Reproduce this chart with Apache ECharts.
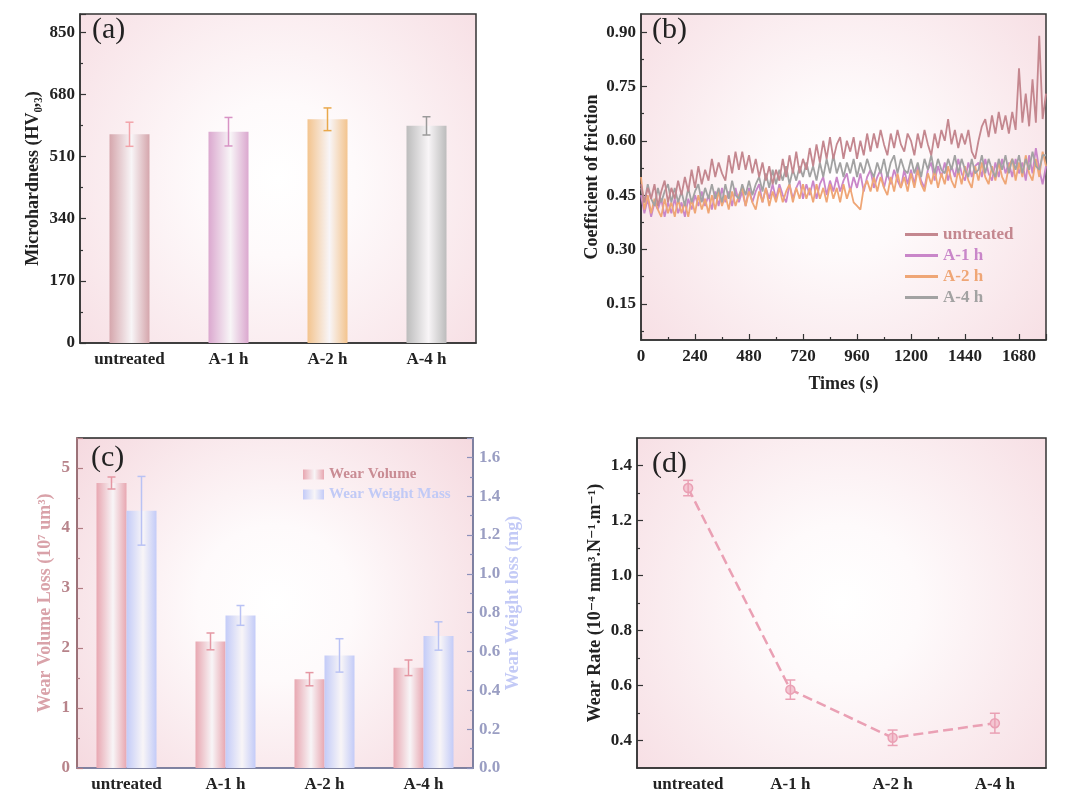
<!DOCTYPE html>
<html>
<head>
<meta charset="utf-8">
<script src="https://cdn.jsdelivr.net/npm/echarts@6/dist/echarts.min.js"></script>
<style>
html, body { margin: 0; padding: 0; background: #fff; }
#main { width: 1080px; height: 799px; }
</style>
</head>
<body>
<div id="main"></div>
<script>
// ---- data ----
var samples     = ['untreated', 'A-1 h', 'A-2 h', 'A-4 h'];

// (a) microhardness
var hardness    = [571, 578, 612, 594];
var hardnessErr = [33, 39, 31, 25];

// (b) coefficient of friction, one reading every timeStep seconds
var timeStep = 15;
var cofUntreated = [
    0.48,0.43,0.47,0.44,0.48,0.42,0.46,0.49,0.43,0.47,
    0.44,0.49,0.45,0.50,0.46,0.52,0.47,0.53,0.48,0.52,
    0.49,0.55,0.50,0.54,0.51,0.49,0.56,0.51,0.57,0.52,
    0.57,0.52,0.56,0.51,0.55,0.50,0.54,0.49,0.53,0.48,
    0.52,0.49,0.55,0.50,0.56,0.51,0.57,0.51,0.55,0.52,
    0.58,0.53,0.59,0.54,0.60,0.55,0.61,0.55,0.59,0.61,
    0.55,0.60,0.57,0.61,0.55,0.60,0.56,0.62,0.57,0.62,
    0.58,0.63,0.59,0.56,0.62,0.58,0.63,0.59,0.57,0.62,
    0.60,0.56,0.62,0.58,0.63,0.59,0.56,0.62,0.58,0.63,
    0.60,0.66,0.59,0.63,0.58,0.62,0.59,0.63,0.57,0.55,
    0.60,0.64,0.66,0.61,0.67,0.62,0.68,0.63,0.67,0.62,
    0.68,0.63,0.80,0.65,0.73,0.64,0.77,0.65,0.89,0.66,
    0.73
];
var cofA1 = [
    0.45,0.40,0.44,0.39,0.43,0.41,0.44,0.39,0.43,0.40,
    0.44,0.40,0.43,0.39,0.44,0.41,0.45,0.42,0.46,0.42,
    0.45,0.41,0.46,0.42,0.47,0.43,0.46,0.42,0.47,0.43,
    0.46,0.42,0.47,0.43,0.46,0.48,0.43,0.47,0.44,0.48,
    0.44,0.48,0.45,0.43,0.48,0.44,0.47,0.49,0.44,0.48,
    0.45,0.49,0.44,0.48,0.50,0.45,0.49,0.46,0.50,0.46,
    0.49,0.51,0.46,0.50,0.47,0.51,0.46,0.50,0.52,0.47,
    0.50,0.52,0.47,0.51,0.48,0.52,0.49,0.47,0.52,0.48,
    0.52,0.48,0.53,0.49,0.47,0.52,0.54,0.49,0.53,0.50,
    0.54,0.49,0.53,0.50,0.55,0.51,0.49,0.54,0.50,0.53,
    0.54,0.50,0.55,0.51,0.49,0.54,0.50,0.55,0.51,0.54,
    0.50,0.55,0.51,0.54,0.49,0.56,0.51,0.58,0.52,0.48,
    0.53
];
var cofA2 = [
    0.50,0.41,0.45,0.40,0.44,0.41,0.39,0.44,0.40,0.43,
    0.39,0.44,0.40,0.43,0.39,0.44,0.40,0.45,0.41,0.44,
    0.40,0.45,0.41,0.46,0.42,0.45,0.41,0.46,0.42,0.45,
    0.47,0.42,0.46,0.43,0.41,0.46,0.43,0.47,0.42,0.46,
    0.43,0.47,0.43,0.46,0.48,0.43,0.47,0.44,0.48,0.44,
    0.47,0.43,0.48,0.44,0.47,0.43,0.48,0.44,0.47,0.43,
    0.48,0.44,0.47,0.43,0.42,0.41,0.47,0.49,0.46,0.50,
    0.46,0.50,0.47,0.45,0.50,0.46,0.51,0.47,0.50,0.46,
    0.51,0.47,0.52,0.48,0.46,0.51,0.48,0.52,0.47,0.51,
    0.48,0.53,0.49,0.47,0.52,0.48,0.53,0.49,0.47,0.53,
    0.49,0.54,0.50,0.48,0.53,0.49,0.54,0.50,0.48,0.53,
    0.55,0.49,0.54,0.50,0.56,0.51,0.49,0.55,0.50,0.57,
    0.53
];
var cofA4 = [
    0.47,0.43,0.48,0.44,0.42,0.47,0.43,0.46,0.48,0.43,
    0.47,0.43,0.46,0.42,0.47,0.43,0.46,0.48,0.43,0.47,
    0.44,0.48,0.44,0.47,0.43,0.48,0.44,0.49,0.45,0.44,
    0.48,0.45,0.49,0.45,0.48,0.50,0.46,0.51,0.47,0.52,
    0.48,0.52,0.49,0.53,0.48,0.52,0.49,0.53,0.50,0.54,
    0.50,0.53,0.49,0.54,0.50,0.55,0.51,0.56,0.51,0.54,
    0.50,0.54,0.51,0.55,0.50,0.54,0.51,0.55,0.52,0.50,
    0.54,0.51,0.55,0.50,0.54,0.56,0.51,0.55,0.52,0.51,
    0.55,0.51,0.54,0.50,0.55,0.52,0.56,0.51,0.55,0.52,
    0.51,0.55,0.52,0.56,0.51,0.55,0.52,0.50,0.55,0.51,
    0.52,0.56,0.51,0.55,0.52,0.50,0.55,0.52,0.56,0.51,
    0.55,0.52,0.56,0.51,0.55,0.52,0.57,0.53,0.52,0.56,
    0.56
];
var cofTicks  = [0.15, 0.30, 0.45, 0.60, 0.75, 0.90];
var cofMinor  = [0.075, 0.225, 0.375, 0.525, 0.675, 0.825];

// (c) wear volume / mass
var wearVolume    = [4.75, 2.11, 1.48, 1.67];
var wearVolumeErr = [0.10, 0.14, 0.11, 0.13];
var wearMass      = [1.325, 0.786, 0.58, 0.68];
var wearMassErr   = [0.177, 0.051, 0.086, 0.073];

// (d) wear rate
var wearRate    = [1.318, 0.585, 0.41, 0.463];
var wearRateErr = [0.028, 0.035, 0.028, 0.036];
var rateTicks   = [0.4, 0.6, 0.8, 1.0, 1.2, 1.4];
var rateMinor   = [0.5, 0.7, 0.9, 1.1, 1.3];

// ---- style ----
var FONT      = "'Liberation Serif', 'Times New Roman', 'DejaVu Serif', serif";
var barEdge   = ['#d5a6ac', '#dba8cf', '#f3c48e', '#bcbcbc'];
var errColors = ['#f2a3a9', '#d893c5', '#e9a84b', '#9a9a9a'];
var cofColors = ['#c4878f', '#c986c9', '#efa676', '#a2a2a2'];
var volColor  = '#e8a7b1';
var massColor = '#c3cbf8';
var rateColor = '#eaa0b4';

function pinkBg(edge) {
    return {
        type: 'radial', x: 0.5, y: 0.5, r: 0.78,
        colorStops: [
            {offset: 0, color: '#ffffff'},
            {offset: 0.3, color: '#fefafb'},
            {offset: 1, color: edge}
        ]
    };
}

function barGrad(edge) {
    return {
        type: 'linear', x: 0, y: 0, x2: 1, y2: 0,
        colorStops: [
            {offset: 0, color: edge},
            {offset: 0.55, color: '#f8f5f7'},
            {offset: 1, color: edge}
        ]
    };
}

function labelStyle(color) {
    return {fontFamily: FONT, fontWeight: 'bold', fontSize: 17, color: color || '#222'};
}

function nameStyle(color) {
    return {fontFamily: FONT, fontWeight: 'bold', fontSize: 18, color: color || '#222'};
}

// error bars drawn through the axes of the series
function errRender(offset, capW, colors) {
    return function (params, api) {
        var i  = api.value(0);
        var lo = api.coord([i, api.value(1)]);
        var hi = api.coord([i, api.value(2)]);
        var x  = lo[0] + offset;
        var st = {stroke: colors[i % colors.length], lineWidth: 1.5};
        return {
            type: 'group',
            children: [
                {type: 'line', shape: {x1: x, y1: lo[1], x2: x, y2: hi[1]}, style: st},
                {type: 'line', shape: {x1: x - capW / 2, y1: hi[1], x2: x + capW / 2, y2: hi[1]}, style: st},
                {type: 'line', shape: {x1: x - capW / 2, y1: lo[1], x2: x + capW / 2, y2: lo[1]}, style: st}
            ]
        };
    };
}

function errData(vals, errs) {
    var out = [];
    for (var i = 0; i < vals.length; i++) {
        out.push([i, vals[i] - errs[i], vals[i] + errs[i]]);
    }
    return out;
}

function cofData(vals) {
    var out = [];
    for (var i = 0; i < vals.length; i++) {
        out.push([i * timeStep, vals[i]]);
    }
    return out;
}

function catAxis(grid, color) {
    return {
        type: 'category', gridIndex: grid, data: samples, position: 'bottom',
        axisLine: {lineStyle: {color: color || '#333', width: 1.5}},
        axisTick: {inside: true, alignWithLabel: true, length: 6, lineStyle: {color: color || '#333', width: 1.2}},
        axisLabel: Object.assign({margin: 8}, labelStyle())
    };
}

function catMinor(grid, color) {
    return {
        type: 'category', gridIndex: grid, data: samples, position: 'bottom',
        axisLine: {show: false},
        axisTick: {inside: true, length: 3, lineStyle: {color: color || '#333', width: 1.2}},
        axisLabel: {show: false}
    };
}

var chart = echarts.init(document.getElementById('main'));

var hardBars = [];
for (var i = 0; i < hardness.length; i++) {
    hardBars.push({value: hardness[i], itemStyle: {color: barGrad(barEdge[i])}});
}

option = {
    backgroundColor: '#fff',
    animation: false,
    title: [
        {text: '(a)', left: 92, top: 15, padding: 0, textStyle: {fontFamily: FONT, fontWeight: 'normal', fontSize: 30, color: '#222'}},
        {text: '(b)', left: 652, top: 15, padding: 0, textStyle: {fontFamily: FONT, fontWeight: 'normal', fontSize: 30, color: '#222'}},
        {text: '(c)', left: 91, top: 443, padding: 0, textStyle: {fontFamily: FONT, fontWeight: 'normal', fontSize: 30, color: '#222'}},
        {text: '(d)', left: 652, top: 449, padding: 0, textStyle: {fontFamily: FONT, fontWeight: 'normal', fontSize: 30, color: '#222'}}
    ],
    legend: [
        {
            orient: 'vertical', left: 900, top: 221, itemGap: 4,
            itemWidth: 33, itemHeight: 3, icon: 'rect',
            textStyle: {fontFamily: FONT, fontWeight: 'bold', fontSize: 17},
            data: [
                {name: 'untreated', textStyle: {color: cofColors[0]}},
                {name: 'A-1 h', textStyle: {color: cofColors[1]}},
                {name: 'A-2 h', textStyle: {color: cofColors[2]}},
                {name: 'A-4 h', textStyle: {color: cofColors[3]}}
            ]
        },
        {
            orient: 'vertical', left: 298, top: 462, itemGap: 5,
            itemWidth: 21, itemHeight: 10, icon: 'rect',
            textStyle: {fontFamily: FONT, fontWeight: 'bold', fontSize: 15},
            data: [
                {name: 'Wear Volume', textStyle: {color: '#c98c94'}},
                {name: 'Wear Weight Mass', textStyle: {color: '#c1caf6'}}
            ]
        }
    ],
    grid: [
        {left: 80, top: 14, width: 396, height: 329, show: true, backgroundColor: pinkBg('#f7e0e5'), borderColor: '#333', borderWidth: 1.5},
        {left: 641, top: 14, width: 405, height: 326, show: true, backgroundColor: pinkBg('#f7e0e5'), borderColor: '#333', borderWidth: 1.5},
        {left: 77, top: 438, width: 396, height: 330, show: true, backgroundColor: pinkBg('#f5d9df'), borderColor: '#222', borderWidth: 1.5},
        {left: 637, top: 438, width: 409, height: 330, show: true, backgroundColor: pinkBg('#f7e0e5'), borderColor: '#333', borderWidth: 1.5}
    ],
    xAxis: [
        catAxis(0),
        catMinor(0),
        {
            type: 'value', gridIndex: 1, min: 0, max: 1800, interval: 240, position: 'bottom',
            name: 'Times (s)', nameLocation: 'middle', nameGap: 35, nameTextStyle: nameStyle(),
            axisLine: {lineStyle: {color: '#333', width: 1.5}},
            axisTick: {inside: true, length: 6, lineStyle: {color: '#333', width: 1.2}},
            minorTick: {show: true, splitNumber: 2, length: 3, lineStyle: {color: '#333', width: 1.2}},
            splitLine: {show: false},
            axisLabel: Object.assign({margin: 8, showMaxLabel: false, formatter: function (v) { return String(v); }}, labelStyle())
        },
        catAxis(2, '#8d91bb'),
        catMinor(2, '#8d91bb'),
        catAxis(3),
        catMinor(3)
    ],
    yAxis: [
        {
            type: 'value', gridIndex: 0, min: 0, max: 900, interval: 170, position: 'left',
            name: 'Microhardness (HV₀,₃)', nameLocation: 'middle', nameRotate: 90, nameGap: 38,
            nameTextStyle: nameStyle(),
            axisLine: {show: true, lineStyle: {color: '#333', width: 1.5}},
            axisTick: {show: true, inside: true, length: 6, lineStyle: {color: '#333', width: 1.2}},
            minorTick: {show: true, splitNumber: 2, length: 3, lineStyle: {color: '#333', width: 1.2}},
            splitLine: {show: false},
            axisLabel: Object.assign({margin: 5, showMaxLabel: false}, labelStyle())
        },
        {
            type: 'value', gridIndex: 1, min: 0.05, max: 0.95, position: 'left',
            name: 'Coefficient of friction', nameLocation: 'middle', nameRotate: 90, nameGap: 40,
            nameTextStyle: nameStyle(),
            axisLine: {show: true, lineStyle: {color: '#333', width: 1.5}},
            axisTick: {show: true, inside: true, length: 6, customValues: cofTicks, lineStyle: {color: '#333', width: 1.2}},
            splitLine: {show: false},
            axisLabel: Object.assign({margin: 5, customValues: cofTicks, formatter: function (v) { return v.toFixed(2); }}, labelStyle())
        },
        {
            type: 'value', gridIndex: 1, min: 0.05, max: 0.95, position: 'left',
            axisLine: {show: false},
            axisTick: {show: true, inside: true, length: 3, customValues: cofMinor, lineStyle: {color: '#333', width: 1.2}},
            splitLine: {show: false},
            axisLabel: {show: false}
        },
        {
            type: 'value', gridIndex: 2, min: 0, max: 5.5, interval: 1, position: 'left',
            name: 'Wear Volume Loss (10⁷ um³)', nameLocation: 'middle', nameRotate: 90, nameGap: 23,
            nameTextStyle: nameStyle('#d9a2a9'),
            axisLine: {show: true, lineStyle: {color: '#b37d84', width: 1.5}},
            axisTick: {show: true, inside: true, length: 6, lineStyle: {color: '#b37d84', width: 1.2}},
            minorTick: {show: true, splitNumber: 2, length: 3, lineStyle: {color: '#b37d84', width: 1.2}},
            splitLine: {show: false},
            axisLabel: Object.assign({margin: 7, showMaxLabel: false}, labelStyle('#b7838a'))
        },
        {
            type: 'value', gridIndex: 2, min: 0, max: 1.7, interval: 0.2, position: 'right',
            name: 'Wear Weight loss (mg)', nameLocation: 'middle', nameRotate: 90, nameGap: 31,
            nameTextStyle: nameStyle('#c3caf6'),
            axisLine: {show: true, lineStyle: {color: '#8d91bb', width: 1.5}},
            axisTick: {show: true, inside: true, length: 6, lineStyle: {color: '#8d91bb', width: 1.2}},
            minorTick: {show: true, splitNumber: 2, length: 3, lineStyle: {color: '#8d91bb', width: 1.2}},
            splitLine: {show: false},
            axisLabel: Object.assign({margin: 6, showMaxLabel: false, formatter: function (v) { return v.toFixed(1); }}, labelStyle('#9a9ec3'))
        },
        {
            type: 'value', gridIndex: 3, min: 0.3, max: 1.5, position: 'left',
            name: 'Wear Rate (10⁻⁴ mm³.N⁻¹.m⁻¹)', nameLocation: 'middle', nameRotate: 90, nameGap: 33,
            nameTextStyle: nameStyle(),
            axisLine: {show: true, lineStyle: {color: '#333', width: 1.5}},
            axisTick: {show: true, inside: true, length: 6, customValues: rateTicks, lineStyle: {color: '#333', width: 1.2}},
            splitLine: {show: false},
            axisLabel: Object.assign({margin: 5, customValues: rateTicks, formatter: function (v) { return v.toFixed(1); }}, labelStyle())
        },
        {
            type: 'value', gridIndex: 3, min: 0.3, max: 1.5, position: 'left',
            axisLine: {show: false},
            axisTick: {show: true, inside: true, length: 3, customValues: rateMinor, lineStyle: {color: '#333', width: 1.2}},
            splitLine: {show: false},
            axisLabel: {show: false}
        }
    ],
    series: [
        // (a)
        {
            name: 'Microhardness', type: 'bar', xAxisIndex: 0, yAxisIndex: 0,
            barWidth: 40, data: hardBars
        },
        {
            type: 'custom', xAxisIndex: 0, yAxisIndex: 0, z: 5,
            renderItem: errRender(0, 8, errColors),
            encode: {x: 0, y: [1, 2]},
            data: errData(hardness, hardnessErr)
        },
        // (b)
        {name: 'untreated', type: 'line', xAxisIndex: 2, yAxisIndex: 1, symbol: 'none', z: 4,
         lineStyle: {width: 1.8, color: cofColors[0]}, itemStyle: {color: cofColors[0]}, data: cofData(cofUntreated)},
        {name: 'A-1 h', type: 'line', xAxisIndex: 2, yAxisIndex: 1, symbol: 'none', z: 2,
         lineStyle: {width: 1.8, color: cofColors[1]}, itemStyle: {color: cofColors[1]}, data: cofData(cofA1)},
        {name: 'A-2 h', type: 'line', xAxisIndex: 2, yAxisIndex: 1, symbol: 'none', z: 2,
         lineStyle: {width: 1.8, color: cofColors[2]}, itemStyle: {color: cofColors[2]}, data: cofData(cofA2)},
        {name: 'A-4 h', type: 'line', xAxisIndex: 2, yAxisIndex: 1, symbol: 'none', z: 3,
         lineStyle: {width: 1.8, color: cofColors[3]}, itemStyle: {color: cofColors[3]}, data: cofData(cofA4)},
        // (c)
        {
            name: 'Wear Volume', type: 'bar', xAxisIndex: 3, yAxisIndex: 3,
            barWidth: 30, barGap: '0%',
            itemStyle: {color: barGrad(volColor)}, data: wearVolume
        },
        {
            name: 'Wear Weight Mass', type: 'bar', xAxisIndex: 3, yAxisIndex: 4,
            barWidth: 30, barGap: '0%',
            itemStyle: {color: barGrad(massColor)}, data: wearMass
        },
        {
            type: 'custom', xAxisIndex: 3, yAxisIndex: 3, z: 5,
            renderItem: errRender(-15, 8, ['#e597a3']),
            encode: {x: 0, y: [1, 2]},
            data: errData(wearVolume, wearVolumeErr)
        },
        {
            type: 'custom', xAxisIndex: 3, yAxisIndex: 4, z: 5,
            renderItem: errRender(15, 8, ['#b9c2f4']),
            encode: {x: 0, y: [1, 2]},
            data: errData(wearMass, wearMassErr)
        },
        // (d)
        {
            name: 'Wear Rate', type: 'line', xAxisIndex: 5, yAxisIndex: 5, z: 4,
            symbol: 'circle', symbolSize: 9,
            lineStyle: {type: 'dashed', width: 2.5, color: rateColor},
            itemStyle: {color: '#f4c6d2', borderColor: rateColor, borderWidth: 1.5},
            data: wearRate
        },
        {
            type: 'custom', xAxisIndex: 5, yAxisIndex: 5, z: 5,
            renderItem: errRender(0, 10, [rateColor]),
            encode: {x: 0, y: [1, 2]},
            data: errData(wearRate, wearRateErr)
        }
    ]
};

chart.setOption(option, true);
</script>
</body>
</html>
